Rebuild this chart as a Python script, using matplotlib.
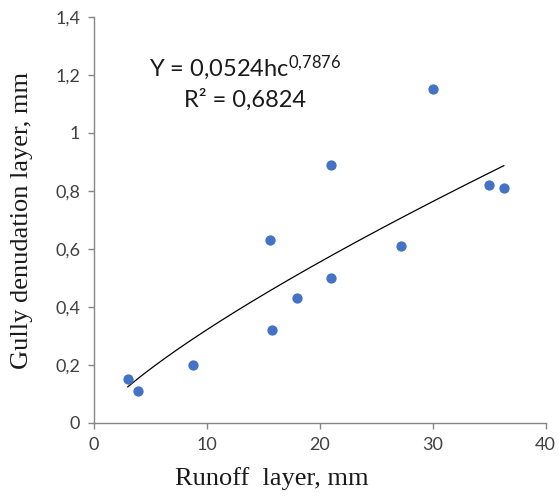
import numpy as np
import matplotlib
matplotlib.use("Agg")
import matplotlib.pyplot as plt

runoff = [3.0, 3.9, 8.8, 15.6, 15.8, 18.0, 21.0, 21.0, 27.2, 30.0, 35.0, 36.3]
denudation = [0.15, 0.11, 0.20, 0.63, 0.32, 0.43, 0.89, 0.50, 0.61, 1.15, 0.82, 0.81]
coef_a = 0.0524
coef_b = 0.7876
eq_text = r"Y = 0,0524hc$^{\mathrm{0{,}7876}}$"
r2_text = "R² = 0,6824"
x_ticks = [0, 10, 20, 30, 40]
x_labels = ["0", "10", "20", "30", "40"]
y_ticks = [0, 0.2, 0.4, 0.6, 0.8, 1.0, 1.2, 1.4]
y_labels = ["0", "0,2", "0,4", "0,6", "0,8", "1", "1,2", "1,4"]

plt.rcParams['mathtext.fontset'] = 'custom'
plt.rcParams['mathtext.rm'] = 'Lato'
plt.rcParams['mathtext.it'] = 'Lato'

W, H = 559, 497
fig = plt.figure(figsize=(W / 100, H / 100), dpi=100)
ax = fig.add_axes([0.168, 0.149, 0.808, 0.817])

xs = np.linspace(min(runoff), max(runoff), 200)
ax.plot(xs, coef_a * xs ** coef_b, color='black', lw=0.9, zorder=2)
ax.scatter(runoff, denudation, s=55, color='#4472C4', zorder=3, linewidths=0)

ax.set_xlim(0, 40)
ax.set_ylim(0, 1.4)
ax.set_xticks(x_ticks)
ax.set_xticklabels(x_labels)
ax.set_yticks(y_ticks)
ax.set_yticklabels(y_labels)
for s in ['top', 'right']:
    ax.spines[s].set_visible(False)
for s in ['left', 'bottom']:
    ax.spines[s].set_color('#868686')
    ax.spines[s].set_linewidth(1.0)
ax.tick_params(direction='out', length=4, width=1.0, color='#868686',
               labelsize=13, labelcolor='#404040', pad=6)
for lab in ax.get_xticklabels() + ax.get_yticklabels():
    lab.set_family('Lato')

fig.text(272 / W, 1 - 479 / H, "Runoff  layer, mm", family='Liberation Serif', fontsize=19,
         color='#1a1a1a', ha='center', va='center')
fig.text(22 / W, 1 - 220 / H, "Gully denudation layer, mm", family='Liberation Serif', fontsize=19,
         color='#1a1a1a', ha='center', va='center', rotation=90)

ax.annotate(eq_text, xy=(245, H - 68), xycoords='figure pixels',
            ha='center', va='center', family='Lato', fontsize=17, color='#1a1a1a')
ax.annotate(r2_text, xy=(245, H - 100), xycoords='figure pixels', ha='center', va='center',
            family='Lato', fontsize=17, color='#1a1a1a')

fig.savefig("out.png", dpi=100)
